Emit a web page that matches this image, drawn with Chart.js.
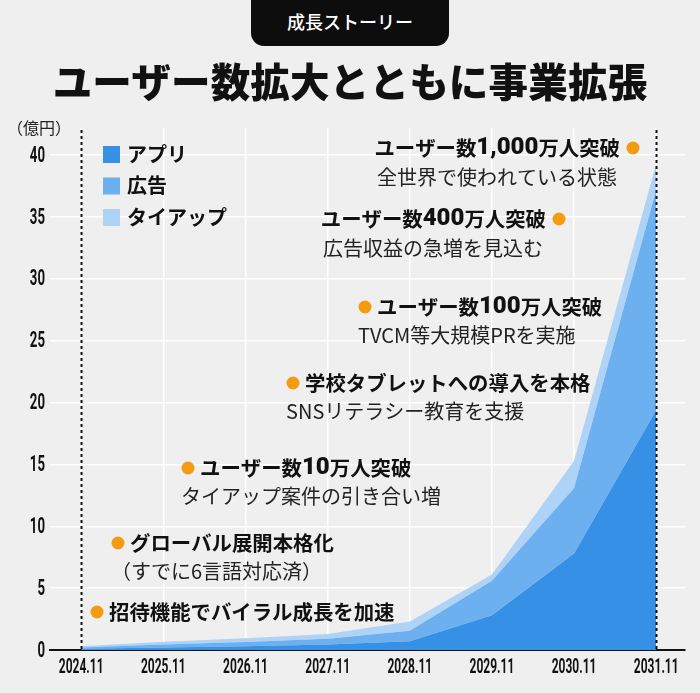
<!DOCTYPE html>
<html lang="ja">
<head>
<meta charset="utf-8">
<script src="https://cdn.jsdelivr.net/npm/chart.js@4"></script>
<style>
  html, body { margin: 0; padding: 0; background: #efefef; }
  #wrap { position: relative; width: 700px; height: 693px; overflow: hidden; font-family: "Noto Sans CJK JP", sans-serif; }
  #badge { position: absolute; left: 251px; top: 0; width: 198px; height: 46px; background: #0d0d0d; color: #fff;
           border-radius: 0 0 13px 13px; font-size: 18px; font-weight: 500; text-align: center; line-height: 42px; }
  #title { position: absolute; left: 0; top: 51px; width: 700px; text-align: center; font-size: 39.5px; font-weight: 900;
           color: #111; letter-spacing: 0.2px; line-height: 58px; }
  #unit { position: absolute; left: 7px; top: 115px; font-size: 16px; color: #222; }
  canvas { position: absolute; left: 0; top: 0; }
</style>
</head>
<body>
<div id="wrap">
  <canvas id="graph" width="700" height="693"></canvas>
  <div id="badge">成長ストーリー</div>
  <div id="title">ユーザー数拡大とともに事業拡張</div>
  <div id="unit">（億円）</div>
</div>
<script>
// 年度
const categories = ['2024.11', '2025.11', '2026.11', '2027.11', '2028.11', '2029.11', '2030.11', '2031.11']
// 売上（億円）… 積み上げ
const appValues = [0.1, 0.2, 0.3, 0.45, 0.7, 2.8, 7.8, 19.4]
const adValues = [0.1, 0.25, 0.35, 0.45, 0.85, 2.8, 5.3, 17.8]
const tieupValues = [0.1, 0.22, 0.3, 0.4, 0.75, 0.5, 2.2, 2.1]
const yTicks = [0, 5, 10, 15, 20, 25, 30, 35, 40]

// 吹き出し（テキストのみ）
const notes = [
	{ title: 'ユーザー数1,000万人突破', sub: '全世界で使われている状態', x: 633, y: 148, dot: 'right' },
	{ title: 'ユーザー数400万人突破', sub: '広告収益の急増を見込む', x: 559, y: 219, dot: 'right' },
	{ title: 'ユーザー数100万人突破', sub: 'TVCM等大規模PRを実施', x: 365, y: 307, dot: 'left' },
	{ title: '学校タブレットへの導入を本格', sub: 'SNSリテラシー教育を支援', x: 293, y: 383, dot: 'left' },
	{ title: 'ユーザー数10万人突破', sub: 'タイアップ案件の引き合い増', x: 188, y: 468, dot: 'left' },
	{ title: 'グローバル展開本格化', sub: '（すでに6言語対応済）', x: 118, y: 543, dot: 'left' },
	{ title: '招待機能でバイラル成長を加速', sub: '', x: 97, y: 612, dot: 'left' },
]

const jpFont = '"Noto Sans CJK JP", sans-serif'
const numFont = '900 24px Roboto, sans-serif'
const titleFont = 'bold 20.4px ' + jpFont
const subFont = '20px ' + jpFont
const squeeze = 0.6
const toPoints = arr => arr.map((v, i) => ({ x: i, y: v }))

// 数字だけ別フォントで描く
function drawTitle(ctx, text, x, y, align) {
	const parts = text.split(/([0-9,]+)/).filter(s => s).map(s => {
		const font = /^[0-9,]+$/.test(s) ? numFont : titleFont
		ctx.font = font
		return { s, font, w: ctx.measureText(s).width }
	})
	const total = parts.reduce((a, p) => a + p.w, 0)
	let cx = align === 'right' ? x - total : x
	ctx.textAlign = 'left'
	parts.forEach(p => {
		ctx.font = p.font
		ctx.fillText(p.s, cx, y)
		cx += p.w
	})
}

// 目盛ラベル（細い字形にするため横に縮めて描く）
function squeezedText(ctx, text, x, y, align) {
	ctx.save()
	ctx.translate(x, y)
	ctx.scale(squeeze, 1)
	ctx.textAlign = align
	ctx.fillText(text, 0, 0)
	ctx.restore()
}
const tickLabels = {
	id: 'tickLabels',
	afterDraw(chart) {
		const ctx = chart.ctx, sx = chart.scales.x, sy = chart.scales.y
		ctx.save()
		ctx.fillStyle = '#111'
		ctx.textBaseline = 'middle'
		ctx.font = 'bold 22px Roboto, sans-serif'
		sy.ticks.forEach(t => squeezedText(ctx, String(t.value), sy.right - 5, sy.getPixelForValue(t.value) + 1, 'right'))
		ctx.font = 'bold 20px Roboto, sans-serif'
		sx.ticks.forEach(t => squeezedText(ctx, categories[t.value], sx.getPixelForValue(t.value), sx.top + 18, 'center'))
		ctx.restore()
	}
}

// 点線（始点・終点）
const edgeLines = {
	id: 'edgeLines',
	afterDatasetsDraw(chart) {
		const ctx = chart.ctx, x = chart.scales.x, a = chart.chartArea
		ctx.save()
		ctx.strokeStyle = '#111'
		ctx.lineWidth = 2
		ctx.setLineDash([3, 3])
		;[0, categories.length - 1].forEach(i => {
			const px = Math.round(x.getPixelForValue(i)) + 0.5
			ctx.beginPath()
			ctx.moveTo(px, a.top + 2)
			ctx.lineTo(px, a.bottom)
			ctx.stroke()
		})
		ctx.restore()
	}
}

// 凡例と注記
const overlay = {
	id: 'overlay',
	afterDraw(chart) {
		const ctx = chart.ctx
		ctx.save()
		ctx.textBaseline = 'middle'
		chart.data.datasets.forEach((ds, i) => {
			const y = 154 + i * 31.5
			ctx.fillStyle = ds.backgroundColor
			ctx.fillRect(103, y - 8, 17, 17)
			ctx.fillStyle = '#111'
			ctx.font = 'bold 20px ' + jpFont
			ctx.textAlign = 'left'
			ctx.fillText(ds.label, 127, y)
		})
		notes.forEach(n => {
			ctx.fillStyle = '#f39c12'
			ctx.beginPath()
			ctx.arc(n.x, n.y, 6.5, 0, Math.PI * 2)
			ctx.fill()
			ctx.fillStyle = '#111'
			if (n.dot === 'left') {
				drawTitle(ctx, n.title, n.x + 12, n.y, 'left')
				ctx.font = subFont
				ctx.fillStyle = '#222'
				ctx.fillText(n.sub, n.x - 7, n.y + 28)
			} else {
				drawTitle(ctx, n.title, n.x - 13, n.y, 'right')
				ctx.font = subFont
				ctx.fillStyle = '#222'
				ctx.textAlign = 'right'
				ctx.fillText(n.sub, n.x - 16, n.y + 29)
			}
		})
		ctx.restore()
	}
}

new Chart(document.querySelector('#graph').getContext('2d'), {
	type: 'line',
	data: {
		datasets: [
			{ label: 'アプリ', data: toPoints(appValues), backgroundColor: '#3690e6', fill: 'origin' },
			{ label: '広告', data: toPoints(adValues), backgroundColor: '#6cb0ef', fill: '-1' },
			{ label: 'タイアップ', data: toPoints(tieupValues), backgroundColor: '#aed3f6', fill: '-1' },
		]
	},
	options: {
		responsive: false,
		animation: false,
		layout: { padding: { top: 128, right: 15, left: 0, bottom: 0 } },
		elements: {
			line: { borderWidth: 0, tension: 0 },
			point: { radius: 0 },
		},
		plugins: {
			legend: { display: false },
			tooltip: { enabled: false },
		},
		scales: {
			x: {
				type: 'linear',
				min: -0.38,
				max: 7.35,
				afterBuildTicks: s => { s.ticks = categories.map((c, i) => ({ value: i })) },
				afterFit: s => { s.height = 43 },
				ticks: { display: false },
				grid: { color: '#ffffff', lineWidth: 1.5, drawTicks: false },
				border: { color: '#111', width: 2 },
			},
			y: {
				stacked: true,
				min: 0,
				max: 42.2,
				afterBuildTicks: s => { s.ticks = yTicks.map(v => ({ value: v })) },
				afterFit: s => { s.width = 50 },
				ticks: { display: false },
				grid: { color: '#ffffff', lineWidth: 1.5, drawTicks: false },
				border: { display: false },
			},
		},
	},
	plugins: [edgeLines, tickLabels, overlay],
})
</script>
</body>
</html>
